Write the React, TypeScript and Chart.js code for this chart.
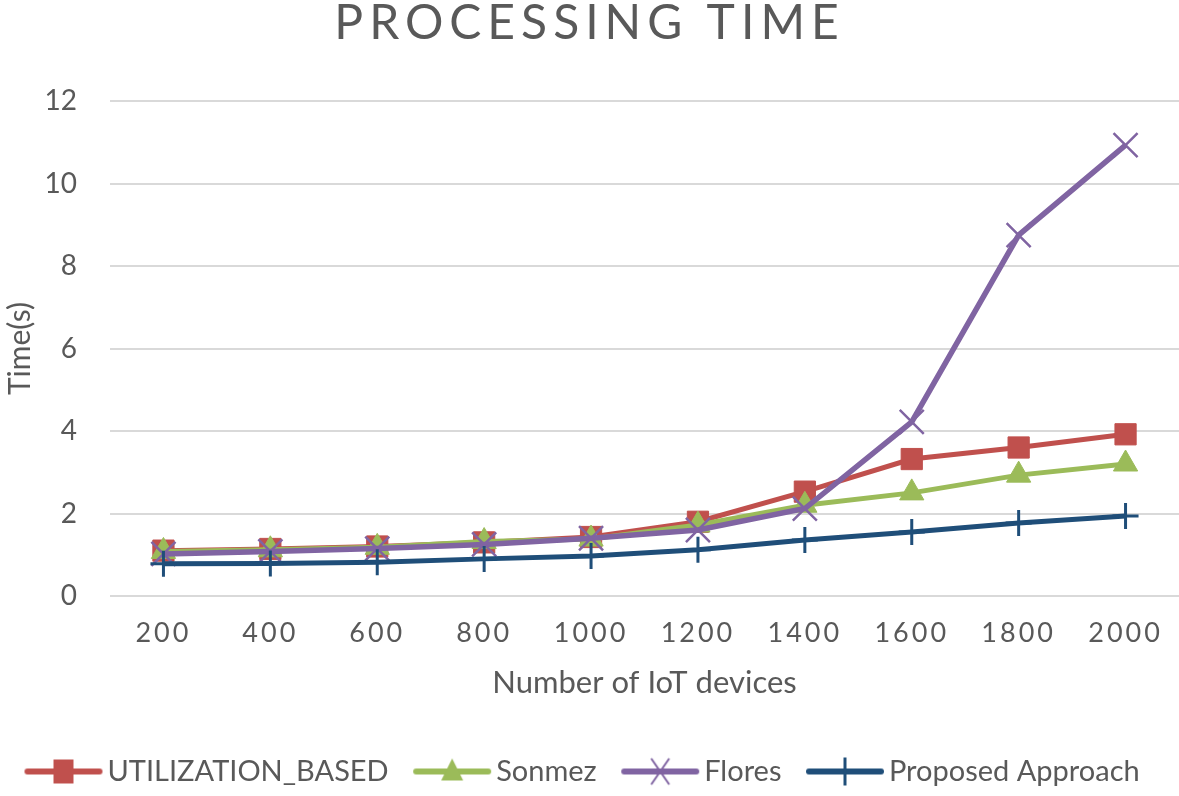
import React, { useEffect, useRef } from 'react';
import { Chart, registerables } from 'chart.js';

Chart.register(...registerables);

const categories = ['200', '400', '600', '800', '1000', '1200', '1400', '1600', '1800', '2000'];
const utilizationBased = [1.1, 1.14, 1.2, 1.3, 1.43, 1.8, 2.53, 3.32, 3.6, 3.92];
const sonmez = [1.08, 1.12, 1.18, 1.32, 1.38, 1.72, 2.2, 2.5, 2.93, 3.2];
const flores = [1.02, 1.08, 1.15, 1.25, 1.4, 1.6, 2.12, 4.22, 8.75, 10.93];
const proposed = [0.78, 0.79, 0.82, 0.9, 0.97, 1.12, 1.36, 1.55, 1.77, 1.94];

const titleText = 'PROCESSING TIME';
const xTitle = 'Number of IoT devices';
const yTitle = 'Time(s)';

const RED = '#C0504D';
const GREEN = '#9BBB59';
const PURPLE = '#8064A2';
const NAVY = '#1F4E79';
const TEXT = '#595959';
const FONT = 'Lato, "Open Sans", sans-serif';

function makeIcon(color: string, kind: string): HTMLCanvasElement {
  const c = document.createElement('canvas');
  c.width = 80;
  c.height = 30;
  const ctx = c.getContext('2d')!;
  ctx.strokeStyle = color;
  ctx.fillStyle = color;
  ctx.lineWidth = 6;
  ctx.lineCap = 'round';
  ctx.beginPath();
  ctx.moveTo(4, 15);
  ctx.lineTo(76, 15);
  ctx.stroke();
  const cx = 40, cy = 15;
  if (kind === 'rect') {
    ctx.fillRect(cx - 10, cy - 12, 20, 24);
  } else if (kind === 'tri') {
    ctx.beginPath();
    ctx.moveTo(cx, cy - 13);
    ctx.lineTo(cx + 11, cy + 9);
    ctx.lineTo(cx - 11, cy + 9);
    ctx.closePath();
    ctx.fill();
  } else if (kind === 'x') {
    ctx.lineWidth = 2;
    ctx.lineCap = 'butt';
    ctx.beginPath();
    ctx.moveTo(cx - 9, cy - 13);
    ctx.lineTo(cx + 9, cy + 13);
    ctx.moveTo(cx + 9, cy - 13);
    ctx.lineTo(cx - 9, cy + 13);
    ctx.stroke();
  } else {
    ctx.lineWidth = 3;
    ctx.lineCap = 'butt';
    ctx.beginPath();
    ctx.moveTo(cx, cy - 14);
    ctx.lineTo(cx, cy + 14);
    ctx.stroke();
  }
  return c;
}

const spacingPlugin = {
  id: 'letterSpacingPatch',
  afterLayout(chart: any) {
    const tb = chart.titleBlock;
    if (tb && !tb.__ls) {
      const orig = tb.draw.bind(tb);
      tb.draw = (...args: any[]) => {
        const ctx = chart.ctx;
        ctx.save();
        ctx.letterSpacing = '6px';
        orig(...args);
        ctx.restore();
      };
      tb.__ls = true;
    }
    const xs = chart.scales.x;
    if (xs && !xs.__ls) {
      const orig = xs.drawLabels.bind(xs);
      xs.drawLabels = (...args: any[]) => {
        const ctx = chart.ctx;
        ctx.save();
        ctx.letterSpacing = '3px';
        orig(...args);
        ctx.restore();
      };
      xs.__ls = true;
    }
  },
};

export default function App() {
  const ref = useRef<HTMLCanvasElement | null>(null);

  useEffect(() => {
    if (!ref.current) return;
    const icons = [
      makeIcon(RED, 'rect'),
      makeIcon(GREEN, 'tri'),
      makeIcon(PURPLE, 'x'),
      makeIcon(NAVY, 'plus'),
    ];
    const chart = new Chart(ref.current, {
      type: 'line',
      plugins: [spacingPlugin],
      data: {
        labels: categories,
        datasets: [
          {
            label: 'UTILIZATION_BASED',
            data: utilizationBased,
            borderColor: RED,
            backgroundColor: RED,
            borderWidth: 5,
            pointStyle: 'rect',
            pointRadius: 15,
            pointBorderWidth: 1,
            pointBackgroundColor: RED,
            pointBorderColor: RED,
            order: 4,
          },
          {
            label: 'Sonmez',
            data: sonmez,
            borderColor: GREEN,
            backgroundColor: GREEN,
            borderWidth: 5,
            pointStyle: 'triangle',
            pointRadius: 14,
            pointBorderWidth: 1,
            pointBackgroundColor: GREEN,
            pointBorderColor: GREEN,
            order: 3,
          },
          {
            label: 'Flores',
            data: flores,
            borderColor: PURPLE,
            backgroundColor: PURPLE,
            borderWidth: 5.5,
            pointStyle: 'crossRot',
            pointRadius: 17,
            pointBorderWidth: 2.5,
            pointBorderColor: PURPLE,
            order: 2,
          },
          {
            label: 'Proposed Approach',
            data: proposed,
            borderColor: NAVY,
            backgroundColor: NAVY,
            borderWidth: 5,
            pointStyle: 'cross',
            pointRadius: 13,
            pointBorderWidth: 3,
            pointBorderColor: NAVY,
            order: 1,
          },
        ],
      },
      options: {
        animation: false,
        responsive: true,
        maintainAspectRatio: false,
        layout: { autoPadding: false, padding: { left: 0, right: 0, top: 0, bottom: 0 } },
        plugins: {
          title: {
            display: true,
            text: titleText,
            color: TEXT,
            font: { family: FONT, size: 48, weight: 'normal', lineHeight: 1 },
            padding: { top: 0, bottom: 53 },
          },
          legend: {
            position: 'bottom',
            align: 'start',
            labels: {
              usePointStyle: true,
              pointStyleWidth: 59,
              boxHeight: 29,
              padding: 34,
              color: TEXT,
              font: { family: FONT, size: 29 },
              generateLabels: (ch: any) =>
                ch.data.datasets.map((ds: any, i: number) => ({
                  text: ds.label,
                  pointStyle: icons[i],
                  fillStyle: ds.borderColor,
                  strokeStyle: ds.borderColor,
                  lineWidth: 0,
                  fontColor: TEXT,
                  hidden: false,
                  datasetIndex: i,
                })),
            },
          },
          tooltip: { enabled: false },
        },
        scales: {
          x: {
            offset: true,
            grid: { display: false, drawTicks: false },
            border: { display: false },
            ticks: {
              color: TEXT,
              font: { family: FONT, size: 27 },
              padding: 21,
              maxRotation: 0,
            },
            title: {
              display: true,
              text: xTitle,
              color: TEXT,
              font: { family: FONT, size: 31 },
              padding: { top: 0, bottom: 21.4 },
            },
            afterFit: (scale: any) => {
              scale.height = 127;
              scale.paddingLeft = 0;
              scale.paddingRight = 0;
            },
          },
          y: {
            min: 0,
            max: 12,
            grid: { color: '#D9D9D9', lineWidth: 2, drawTicks: false },
            border: { display: false },
            ticks: {
              stepSize: 2,
              color: TEXT,
              font: { family: FONT, size: 28 },
              padding: 33,
            },
            title: {
              display: true,
              text: yTitle,
              color: TEXT,
              font: { family: FONT, size: 30 },
              padding: { top: 2, bottom: 0 },
            },
            afterFit: (scale: any) => {
              scale.width = 110;
            },
          },
        },
      },
    });
    return () => chart.destroy();
  }, []);

  return (
    <div style={{ position: 'absolute', left: 0, top: 0, width: 1179, height: 796, background: '#fff' }}>
      <canvas ref={ref} />
    </div>
  );
}
